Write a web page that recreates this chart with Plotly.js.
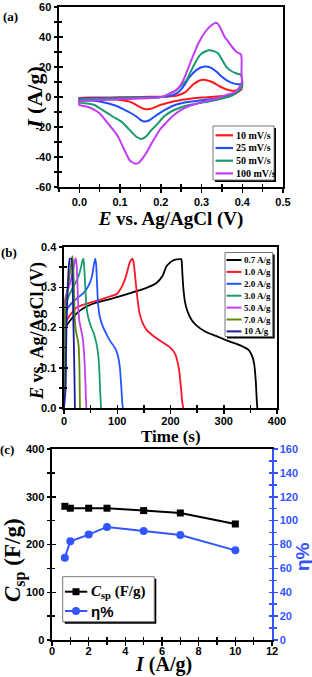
<!DOCTYPE html>
<html><head><meta charset="utf-8">
<script src="https://cdn.plot.ly/plotly-3.0.1.min.js"></script>
<style>html,body{margin:0;padding:0;background:#fff;}#chart{width:312px;height:677px;}</style>
</head><body><div id="chart"></div>
<script>
const W = 312, H = 677;
const px = x => x / W, py = y => 1 - y / H;

// ---------- (a) cyclic voltammetry ----------
const cvLabels = ['10 mV/s', '25 mV/s', '50 mV/s', '100 mV/s'];
const cvColors = ['#ff1a1a', '#1f4fff', '#1a9a6c', '#c23cf4'];

const cv10UpE = [0, 0.05, 0.1, 0.15, 0.2, 0.22, 0.24, 0.26, 0.28, 0.295, 0.305, 0.315, 0.33, 0.345, 0.36, 0.375, 0.39, 0.4];
const cv10UpI = [-0.5, -0.3, -0.2, 0, 0.2, 0.4, 1, 3.2, 8.5, 11, 11.5, 11, 9.5, 7, 5.2, 4.2, 4.5, 5.5];
const cv10DnE = [0.4, 0.385, 0.36, 0.33, 0.3, 0.263, 0.23, 0.214, 0.2, 0.189, 0.178, 0.168, 0.158, 0.148, 0.135, 0.123, 0.1, 0.082, 0.04, 0];
const cv10DnI = [5.5, 2.5, 0.8, 0.2, -0.4, -1.5, -3, -4.2, -5.2, -6.4, -7.6, -8.2, -7.8, -6.6, -4.6, -3.1, -2, -1.5, -1.1, -0.9];

const cv25UpE = [0, 0.05, 0.1, 0.15, 0.2, 0.22, 0.24, 0.255, 0.27, 0.287, 0.3, 0.312, 0.325, 0.337, 0.35, 0.361, 0.378, 0.39, 0.398];
const cv25UpI = [-1.2, -0.8, -0.5, -0.3, 0, 0.6, 2.6, 6.8, 13, 17.9, 19.8, 20.3, 19.3, 16.8, 13.5, 11.3, 9.1, 8.5, 8.6];
const cv25DnE = [0.4, 0.39, 0.375, 0.35, 0.32, 0.3, 0.27, 0.25, 0.23, 0.21, 0.2, 0.185, 0.172, 0.16, 0.15, 0.14, 0.125, 0.111, 0.09, 0.053, 0.02, 0];
const cv25DnI = [7, 4, 1.5, -0.5, -1.5, -2.2, -3.2, -4.2, -5.8, -8.6, -10.2, -13, -15.5, -16.4, -15.2, -13, -10.5, -8.6, -5.8, -3.1, -2.3, -2];

const cv50UpE = [0, 0.05, 0.1, 0.15, 0.2, 0.214, 0.238, 0.25, 0.263, 0.279, 0.296, 0.31, 0.32, 0.33, 0.341, 0.35, 0.361, 0.375, 0.386, 0.397];
const cv50UpI = [-2, -1.3, -0.8, -0.5, -0.2, 1.3, 4.6, 7.5, 11.3, 20, 27.9, 30.5, 31.2, 30.6, 29, 25, 20.1, 17, 15.7, 14.6];
const cv50DnE = [0.4, 0.39, 0.375, 0.35, 0.32, 0.3, 0.27, 0.25, 0.23, 0.21, 0.2, 0.188, 0.177, 0.165, 0.152, 0.14, 0.127, 0.115, 0.103, 0.085, 0.07, 0.05, 0.037, 0.02, 0];
const cv50DnI = [8, 4, 1, -1, -2.8, -3.8, -5.3, -6.8, -9, -12.5, -15.3, -19, -22, -26, -28, -26.5, -23, -19.5, -16.4, -13.5, -10.9, -7.5, -5.3, -4.3, -3.8];

const cv100UpE = [0, 0.05, 0.1, 0.15, 0.197, 0.214, 0.238, 0.25, 0.259, 0.275, 0.292, 0.312, 0.325, 0.333, 0.34, 0.349, 0.357, 0.366, 0.376, 0.386, 0.397];
const cv100UpI = [-3, -2, -1.5, -1, -0.2, 1.3, 4.6, 8.5, 13.5, 24.6, 35.7, 44.5, 48, 49.4, 48.8, 44.5, 40, 36.8, 33, 30, 28.4];
const cv100DnE = [0.398, 0.399, 0.39, 0.38, 0.36, 0.33, 0.3, 0.27, 0.25, 0.23, 0.21, 0.197, 0.187, 0.177, 0.165, 0.152, 0.145, 0.138, 0.13, 0.123, 0.11, 0.094, 0.07, 0.05, 0.037, 0.02, 0];
const cv100DnI = [15.7, 10, 5.5, 3, 1.2, -1.5, -3.5, -6, -8.6, -12.5, -18, -22, -26.5, -31, -37, -42, -44, -44.5, -43.5, -42, -35, -26, -17.5, -11, -8.6, -6.5, -5.3];

// ---------- (b) galvanostatic charge-discharge ----------
const gcdLabels = ['0.7 A/g', '1.0 A/g', '2.0 A/g', '3.0 A/g', '5.0 A/g', '7.0 A/g', '10 A/g'];
const gcdColors = ['#000000', '#ff1428', '#2255ff', '#1a9a70', '#c040f0', '#5f8a0a', '#1c1ca0'];
const t07 = [0, 1, 2, 5, 12, 20, 30, 42, 60, 90, 123, 150, 173, 185, 192, 198, 204, 212, 220, 221, 222.5, 224, 227, 232, 240, 248, 265, 285, 305, 329, 347, 353, 357, 360, 362, 363];
const v07 = [0, 0.12, 0.195, 0.205, 0.218, 0.23, 0.242, 0.252, 0.262, 0.272, 0.285, 0.296, 0.31, 0.328, 0.351, 0.36, 0.366, 0.369, 0.37, 0.365, 0.33, 0.3, 0.265, 0.24, 0.218, 0.206, 0.19, 0.179, 0.168, 0.157, 0.144, 0.13, 0.111, 0.07, 0.02, 0];
const t10 = [0, 1, 2, 5, 12, 24, 40, 55, 70, 86, 100, 105, 110, 115, 119, 123, 126, 128.5, 131, 133, 136, 139, 142, 148, 155, 165, 175, 188, 198, 205, 210, 214, 217, 220, 222, 224];
const v10 = [0, 0.12, 0.205, 0.218, 0.232, 0.25, 0.258, 0.264, 0.27, 0.277, 0.284, 0.293, 0.305, 0.322, 0.34, 0.36, 0.368, 0.371, 0.36, 0.335, 0.295, 0.26, 0.235, 0.21, 0.194, 0.182, 0.172, 0.161, 0.152, 0.142, 0.13, 0.11, 0.085, 0.045, 0.015, 0];
const t20 = [0, 1, 2, 8, 17, 27, 36, 43, 49, 53, 56, 58.5, 60.5, 62, 64, 67, 73, 80, 86, 93, 98, 102, 105, 107.5, 109.5, 110.5];
const v20 = [0, 0.14, 0.235, 0.25, 0.264, 0.275, 0.285, 0.297, 0.312, 0.33, 0.355, 0.371, 0.355, 0.31, 0.258, 0.228, 0.202, 0.183, 0.168, 0.155, 0.143, 0.125, 0.1, 0.055, 0.012, 0];
const t30 = [0, 1, 3, 8, 15, 22, 28, 32, 34.5, 36.5, 38, 40, 42, 45, 50, 56, 61, 64.5, 66.5, 68, 69.5];
const v30 = [0, 0.16, 0.255, 0.275, 0.295, 0.312, 0.33, 0.35, 0.365, 0.371, 0.35, 0.3, 0.255, 0.228, 0.205, 0.185, 0.16, 0.13, 0.09, 0.04, 0];
const t50 = [0, 1, 2, 5, 9, 13, 16, 19, 21, 22.5, 24, 25.5, 27, 29, 32, 35, 37.5, 39.5, 41, 42];
const v50 = [0, 0.2, 0.27, 0.285, 0.3, 0.318, 0.335, 0.355, 0.368, 0.372, 0.35, 0.3, 0.245, 0.215, 0.195, 0.175, 0.14, 0.09, 0.03, 0];
const t70 = [0, 1, 3, 6, 9, 12, 14.5, 16, 17.5, 19, 20.5, 22.5, 25, 27.5, 29, 30];
const v70 = [0, 0.2, 0.26, 0.29, 0.315, 0.345, 0.368, 0.377, 0.35, 0.28, 0.215, 0.19, 0.175, 0.155, 0.1, 0];
const t100 = [0, 3, 4, 5, 6.5, 8, 9.5, 11, 14, 15.5, 16.5, 17.5, 18.5, 19.5, 20.5];
const v100 = [0, 0.05, 0.15, 0.22, 0.28, 0.33, 0.36, 0.371, 0.371, 0.345, 0.29, 0.22, 0.16, 0.09, 0];

// ---------- (c) specific capacitance and coulombic efficiency ----------
const currentDensity = [0.7, 1, 2, 3, 5, 7, 10];
const cspValues = [280, 276, 276, 276, 271, 266, 243];
const etaValues = [69, 82.7, 88.3, 94.7, 91.3, 88, 75.1];

const ticksA_y = [-60, -40, -20, 0, 20, 40, 60];
const ticksA_yText = ['-60', '-40', '-20', '0', '20', '40', '60'];

// ---------- build ----------
const SERIF = 'Liberation Serif, Times New Roman, serif';
const SANS = 'Liberation Sans, Arial, sans-serif';
const BLUE = '#3355ff';
const traces = [];

const cvUpE = [cv10UpE, cv25UpE, cv50UpE, cv100UpE], cvUpI = [cv10UpI, cv25UpI, cv50UpI, cv100UpI];
const cvDnE = [cv10DnE, cv25DnE, cv50DnE, cv100DnE], cvDnI = [cv10DnI, cv25DnI, cv50DnI, cv100DnI];
cvLabels.forEach((name, i) => {
  traces.push({
    name, x: cvUpE[i].concat(cvDnE[i], [cvUpE[i][0]]), y: cvUpI[i].concat(cvDnI[i], [cvUpI[i][0]]),
    xaxis: 'x', yaxis: 'y', mode: 'lines', line: {color: cvColors[i], width: 2, shape: 'spline', smoothing: 0.6},
    showlegend: false, hoverinfo: 'skip'
  });
});

const gT = [t07, t10, t20, t30, t50, t70, t100], gV = [v07, v10, v20, v30, v50, v70, v100];
gcdLabels.forEach((name, i) => {
  traces.push({
    name, x: gT[i], y: gV[i], xaxis: 'x2', yaxis: 'y2', mode: 'lines',
    line: {color: gcdColors[i], width: 1.8, shape: 'spline', smoothing: 0.5}, showlegend: false, hoverinfo: 'skip'
  });
});

traces.push({name: 'Csp', x: currentDensity, y: cspValues, xaxis: 'x3', yaxis: 'y3', mode: 'lines+markers',
  line: {color: '#000', width: 2}, marker: {symbol: 'square', size: 7, color: '#000'}, showlegend: false});
traces.push({name: 'eta', x: currentDensity, y: etaValues, xaxis: 'x3', yaxis: 'y4', mode: 'lines+markers',
  line: {color: BLUE, width: 2}, marker: {symbol: 'circle', size: 8, color: BLUE}, showlegend: false});

// empty traces that carry the inward half of the crossing tick marks
[['x5', 'y5'], ['x6', 'y6'], ['x7', 'y7'], ['x7', 'y8']].forEach(([xa, ya]) => {
  traces.push({x: [], y: [], xaxis: xa, yaxis: ya, mode: 'lines', showlegend: false, hoverinfo: 'skip'});
});

function minorOf(dtick, dir, color) {
  return {ticks: dir, ticklen: 3, tickwidth: 1.5, tickcolor: color || '#000', dtick, tick0: 0, showgrid: false};
}
function ax(extra) {
  const base = {
    showline: true, linecolor: '#000', linewidth: 2, mirror: true, ticks: 'outside', ticklen: 3.5, tickwidth: 1.5,
    tickcolor: '#000', showgrid: false, zeroline: false, fixedrange: true,
    tickfont: {family: SANS, size: 11, color: '#000', weight: 'bold'}
  };
  return Object.assign(base, extra);
}
function inner(base, extra) {
  return Object.assign({overlaying: base, ticks: 'inside', ticklen: 3.5, tickwidth: 1.5, tickcolor: '#000',
    showticklabels: false, showline: false, showgrid: false, zeroline: false, fixedrange: true}, extra);
}
const tfont = (s, c) => ({family: SERIF, size: s, color: c || '#000', weight: 'bold'});

const layout = {
  width: W, height: H, margin: {l: 0, r: 0, t: 0, b: 0}, paper_bgcolor: '#fff', plot_bgcolor: 'rgba(0,0,0,0)',
  showlegend: false,
  xaxis: ax({domain: [px(59), px(283)], anchor: 'y', range: [-0.05, 0.5], dtick: 0.1, tick0: 0, tickformat: '.1f',
    minor: minorOf(0.05, 'outside'),
    title: {text: '<i>E</i> vs. Ag/AgCl (V)', font: tfont(19), standoff: 1}}),
  yaxis: ax({domain: [py(187), py(7)], anchor: 'x', range: [-60, 60], tickmode: 'array', tickvals: ticksA_y, ticktext: ticksA_yText,
    minor: Object.assign(minorOf(10, 'outside'), {tickmode: 'linear'})}),
  xaxis5: inner('x', {anchor: 'y5', range: [-0.05, 0.5], dtick: 0.1, tick0: 0, minor: minorOf(0.05, 'inside')}),
  yaxis5: inner('y', {anchor: 'x5', range: [-60, 60], dtick: 20, tick0: 0, minor: minorOf(10, 'inside')}),

  xaxis2: ax({domain: [px(64), px(277)], anchor: 'y2', range: [0, 400], dtick: 100, minor: minorOf(50, 'outside'), ticklabelstandoff: -2}),
  yaxis2: ax({domain: [py(408), py(247)], anchor: 'x2', range: [0, 0.4], dtick: 0.1, tickformat: '.1f', minor: minorOf(0.05, 'outside')}),
  xaxis6: inner('x2', {anchor: 'y6', range: [0, 400], dtick: 100, minor: minorOf(50, 'inside')}),
  yaxis6: inner('y2', {anchor: 'x6', range: [0, 0.4], dtick: 0.1, minor: minorOf(0.05, 'inside')}),

  xaxis3: ax({domain: [px(52), px(272)], anchor: 'y3', range: [0, 12], dtick: 2, minor: minorOf(1, 'outside'), ticklabelstandoff: -4}),
  yaxis3: ax({domain: [py(640), py(449)], anchor: 'x3', range: [0, 400], dtick: 100, mirror: false, minor: minorOf(50, 'outside')}),
  yaxis4: ax({overlaying: 'y3', side: 'right', anchor: 'x3', range: [0, 160], dtick: 20, mirror: false,
    linecolor: BLUE, tickcolor: BLUE, tickfont: {family: SANS, size: 11, color: BLUE, weight: 'bold'},
    minor: minorOf(10, 'outside', BLUE)}),
  xaxis7: inner('x3', {anchor: 'y7', range: [0, 12], dtick: 2, minor: minorOf(1, 'inside')}),
  yaxis7: inner('y3', {anchor: 'x7', range: [0, 400], dtick: 100, minor: minorOf(50, 'inside')}),
  yaxis8: inner('y3', {anchor: 'x7', side: 'right', range: [0, 160], dtick: 20, tickcolor: BLUE, minor: minorOf(10, 'inside', BLUE)}),
  shapes: [], annotations: []
};

function note(text, x, y, font, extra) {
  layout.annotations.push(Object.assign({text, x: px(x), y: py(y), xref: 'paper', yref: 'paper', showarrow: false,
    xanchor: 'center', yanchor: 'middle', font}, extra || {}));
}
// axis titles placed beside their axes
note('<i>I</i> (A/g)', 34, 98, tfont(22), {textangle: -90});
note('<i>E</i> vs. Ag/AgCl (V)', 37, 331, tfont(18), {textangle: -90});
note('Time (s)', 171, 436, tfont(17), {borderpad: 0});
note('<i>C</i><sub>sp</sub> (F/g)', 14, 560, tfont(23), {textangle: -90});
note('η%', 302, 557, {family: SANS, size: 19, color: BLUE, weight: 'bold'}, {textangle: -90});
note('<i>I</i> (A/g)', 163, 677, tfont(20), {yanchor: 'bottom', borderpad: 0});

// panel letters
note('(a)', 10, 17, tfont(13));
note('(b)', 9, 252, tfont(13));
note('(c)', 7, 449, tfont(13));

// legends drawn as boxed keys
function legendBox(x0, y0, x1, y1) {
  layout.shapes.push({type: 'rect', xref: 'paper', yref: 'paper', x0: px(x0 + 2), x1: px(x1 + 2), y0: py(y0 + 2), y1: py(y1 + 2),
    fillcolor: '#000', line: {width: 0}, layer: 'above'});
  layout.shapes.push({type: 'rect', xref: 'paper', yref: 'paper', x0: px(x0), x1: px(x1), y0: py(y0), y1: py(y1),
    fillcolor: '#fff', line: {color: '#777', width: 1}, layer: 'above'});
}
function legendKey(lx0, lx1, y, color, w) {
  layout.shapes.push({type: 'line', xref: 'paper', yref: 'paper', x0: px(lx0), x1: px(lx1), y0: py(y), y1: py(y),
    line: {color, width: w}, layer: 'above'});
}
function legendText(text, x, y, font) {
  note(text, x, y, font, {xanchor: 'left'});
}

legendBox(213, 126, 274, 180);
cvLabels.forEach((name, i) => {
  const y = 135.3 + i * 12.7;
  legendKey(215.5, 233, y, cvColors[i], 2.2);
  legendText(name, 234, y, tfont(10));
});

legendBox(225, 252.5, 272.7, 336.5);
gcdLabels.forEach((name, i) => {
  const y = 260 + i * 11.9;
  legendKey(226.5, 241.5, y, gcdColors[i], 2);
  legendText(name, 241.5, y, tfont(9));
});

legendBox(62.7, 576.7, 154.3, 621.7);
legendKey(65, 87.3, 591.7, '#000', 2);
layout.shapes.push({type: 'rect', xref: 'paper', yref: 'paper', x0: px(72.5), x1: px(79.5), y0: py(595.2), y1: py(588.2),
  fillcolor: '#000', line: {width: 0}, layer: 'above'});
legendText('<i>C</i><sub>sp</sub> (F/g)', 88.5, 591.7, tfont(15));
legendKey(65, 87.3, 611, BLUE, 2);
layout.shapes.push({type: 'circle', xref: 'paper', yref: 'paper', x0: px(72), x1: px(80), y0: py(615), y1: py(607),
  fillcolor: BLUE, line: {width: 0}, layer: 'above'});
legendText('η%', 88.5, 611, {family: SANS, size: 15, color: '#000', weight: 'bold'});

Plotly.newPlot('chart', traces, layout, {staticPlot: true, displayModeBar: false});
</script></body></html>
